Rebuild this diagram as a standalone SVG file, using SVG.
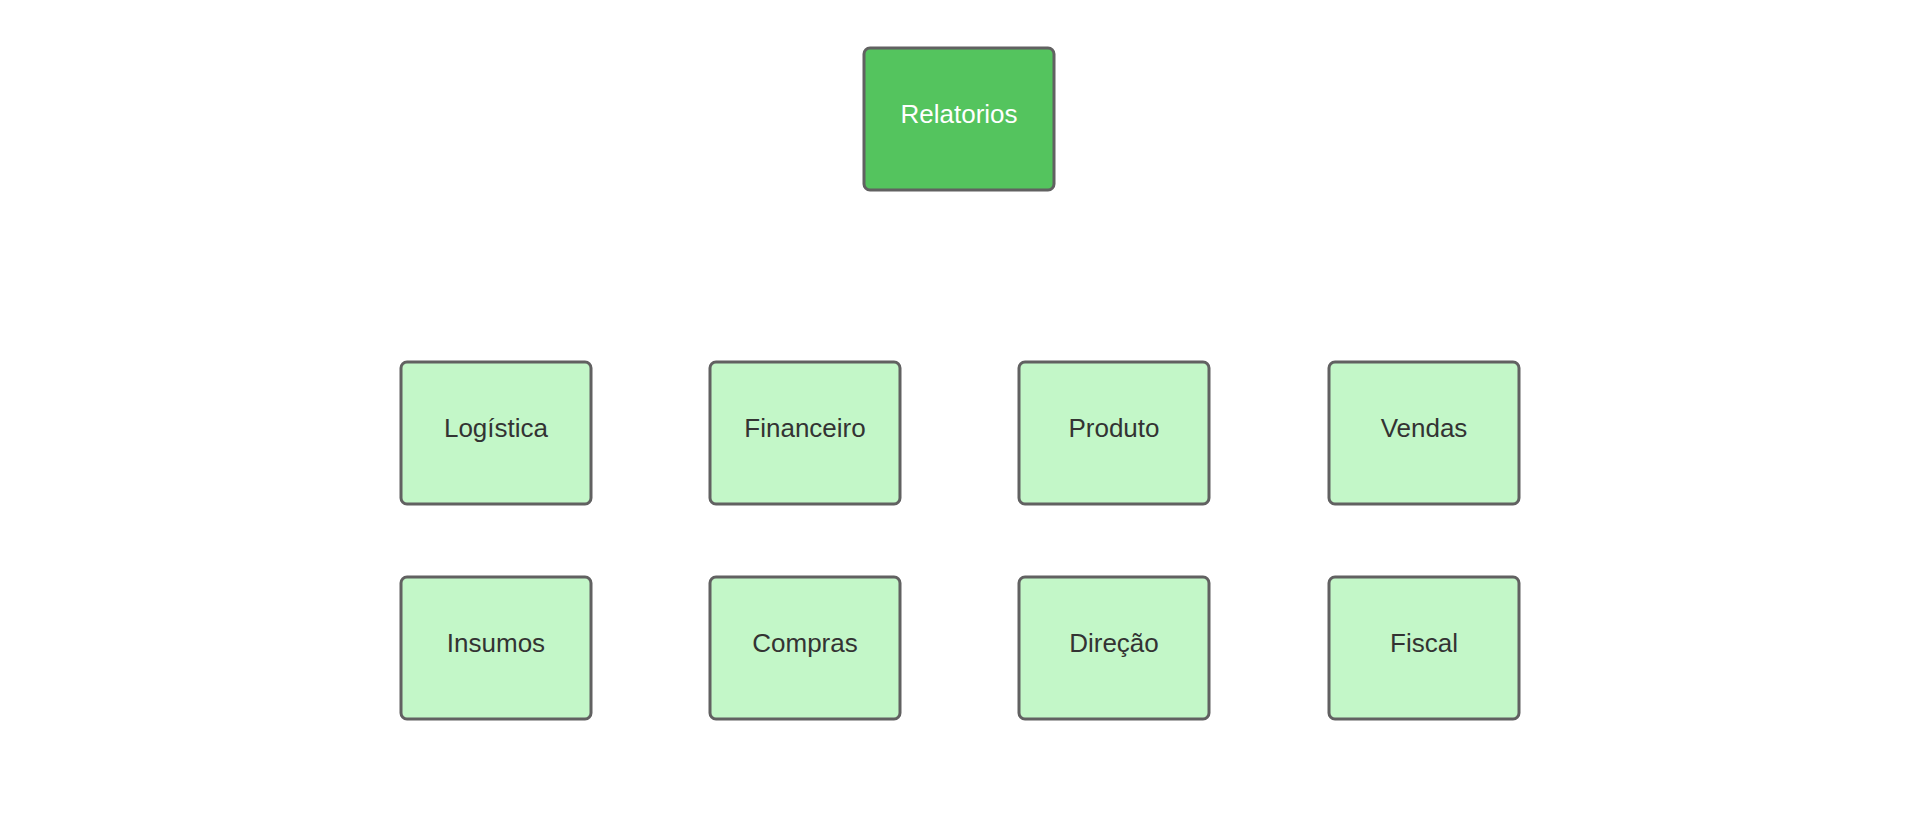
<svg xmlns="http://www.w3.org/2000/svg" width="1920" height="816" viewBox="0 0 1920 816">
<style>
.box{stroke:#616161;stroke-width:3;}
.root{fill:#54c45e;}
.leaf{fill:#c3f7c8;}
.t{font-family:"Liberation Sans",Arial,sans-serif;font-size:26px;text-anchor:middle;}
.tw{fill:#ffffff;}
.td{fill:#333333;}
</style>
<rect width="1920" height="816" fill="#ffffff"/>
<g id="connectors"></g>
<g id="relatorios"><rect class="box root" x="864" y="48" width="190" height="142" rx="6"/><text class="t tw" x="959" y="123">Relatorios</text></g>
<g id="logistica"><rect class="box leaf" x="401" y="362" width="190" height="142" rx="6"/><text class="t td" x="496" y="437">Logística</text></g>
<g id="financeiro"><rect class="box leaf" x="710" y="362" width="190" height="142" rx="6"/><text class="t td" x="805" y="437">Financeiro</text></g>
<g id="produto"><rect class="box leaf" x="1019" y="362" width="190" height="142" rx="6"/><text class="t td" x="1114" y="437">Produto</text></g>
<g id="vendas"><rect class="box leaf" x="1329" y="362" width="190" height="142" rx="6"/><text class="t td" x="1424" y="437">Vendas</text></g>
<g id="insumos"><rect class="box leaf" x="401" y="577" width="190" height="142" rx="6"/><text class="t td" x="496" y="652">Insumos</text></g>
<g id="compras"><rect class="box leaf" x="710" y="577" width="190" height="142" rx="6"/><text class="t td" x="805" y="652">Compras</text></g>
<g id="direcao"><rect class="box leaf" x="1019" y="577" width="190" height="142" rx="6"/><text class="t td" x="1114" y="652">Direção</text></g>
<g id="fiscal"><rect class="box leaf" x="1329" y="577" width="190" height="142" rx="6"/><text class="t td" x="1424" y="652">Fiscal</text></g>
</svg>
